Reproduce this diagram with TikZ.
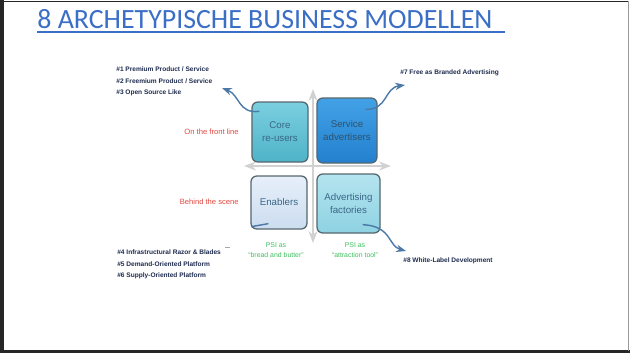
\documentclass[tikz,border=0pt]{standalone}
\usepackage{fontspec}
\setmainfont{Liberation Sans}
\newfontfamily\titlefont{Carlito}
\usepackage{xcolor}
\usetikzlibrary{arrows.meta,calc,positioning}

\definecolor{titleblue}{HTML}{3B6FC6}
\definecolor{listnavy}{HTML}{1E2B4F}
\definecolor{scenered}{HTML}{E2473F}
\definecolor{psigreen}{HTML}{3DBE5C}
\definecolor{flowblue}{HTML}{4C78A6}
\definecolor{boxtext}{HTML}{3A6687}
\definecolor{boxedge}{HTML}{56676E}
\definecolor{coretop}{HTML}{7ACFDF}
\definecolor{corebot}{HTML}{4FB3C8}
\definecolor{servtop}{HTML}{43A2E6}
\definecolor{servbot}{HTML}{2280CF}
\definecolor{enabtop}{HTML}{E6EFFA}
\definecolor{enabbot}{HTML}{CCDDF0}
\definecolor{advftop}{HTML}{B4E4EF}
\definecolor{advfbot}{HTML}{8ED2E2}

\begin{document}
\begin{tikzpicture}[x=0.03cm,y=-0.03cm,>=Stealth,semithick]
 \tikzstyle{quad}=[draw=boxedge, line width=1.1pt, rounded corners=5pt, align=center, text=boxtext, font=\fontsize{8.3}{11}\selectfont, inner sep=0pt]
 \tikzstyle{lst}=[anchor=west, inner sep=0pt, text=listnavy, font=\fontsize{5.6}{6.5}\selectfont\bfseries]
 \tikzstyle{side}=[anchor=east, inner sep=0pt, text=scenered, font=\fontsize{6.5}{8}\selectfont]
 \tikzstyle{psi}=[align=center, inner sep=0pt, text=psigreen, font=\fontsize{5.9}{8.5}\selectfont]
 \tikzstyle{flow}=[->, draw=flowblue, line width=1.2pt]
 \tikzstyle{axis}=[<->, draw=black!18, line width=1.6pt]

 \useasboundingbox (0,0) rectangle (630,353);
 % slide frame
 \fill[black!85] (0,0) rectangle (4,353);
 \fill[black!85] (0,350) rectangle (630,353);
 \draw[black!85, line width=0.8pt] (2,1) -- (629,1);
 \draw[black!40, line width=0.8pt] (628,1) -- (628,351);

 % title
 \node[anchor=base west, inner sep=0pt, text=titleblue, font=\titlefont\fontsize{23.8}{26}\selectfont] (title) at (37,28) {8 ARCHETYPISCHE BUSINESS MODELLEN};
 \draw[titleblue, line width=1pt] ([yshift=-3.4pt]title.base west) -- ++(468,0);

 % axes
 \coordinate (axN) at (313,89);
 \coordinate (axS) at (313,243);
 \coordinate (axW) at (244,166);
 \coordinate (axE) at (391,166);
 \draw[axis] (axS) -- (axN);
 \draw[axis] (axW) -- (axE);

 % quadrants
 \node[quad, top color=coretop, bottom color=corebot, minimum width=1.68cm, minimum height=1.8cm] (core) at (280,132) {Core\\re-users};
 \node[quad, top color=servtop, bottom color=servbot, minimum width=1.8cm, minimum height=1.95cm, text=boxtext!80!black] (serv) at (347,130.5) {Service\\advertisers};
 \node[quad, top color=enabtop, bottom color=enabbot, minimum width=1.68cm, minimum height=1.59cm] (enab) at (279,202.5) {Enablers};
 \node[quad, top color=advftop, bottom color=advfbot, minimum width=1.89cm, minimum height=1.77cm] (advf) at (348.5,203.5) {Advertising\\factories};

 % side labels
 \node[side] (front) at (239,132) {On the front line};
 \node[side] (behind) at (239,202) {Behind the scene};
 \node[psi] (psiA) at (276,250) {PSI as\\``bread and butter''};
 \node[psi] (psiB) at (355,250) {PSI as\\``attraction tool''};

 % model lists
 \node[lst] (p1) at (116,69) {\#1 Premium Product / Service};
 \node[lst] (p2) [below=0.36cm of p1.west, anchor=west] {\#2 Freemium Product / Service};
 \node[lst] (p3) [below=0.36cm of p2.west, anchor=west] {\#3 Open Source Like};
 \node[lst] (p7) at (400,73) {\#7 Free as Branded Advertising};
 \node[lst] (p4) at (117,252) {\#4 Infrastructural Razor \& Blades};
 \node[lst] (p5) [below=0.35cm of p4.west, anchor=west] {\#5 Demand-Oriented Platform};
 \node[lst] (p6) [below=0.35cm of p5.west, anchor=west] {\#6 Supply-Oriented Platform};
 \node[lst] (p8) at (403,261) {\#8 White-Label Development};

 % arrows out of the quadrants
 \coordinate (tipA) at (222,88);
 \coordinate (tipB) at (405,85);
 \coordinate (tipD) at (406,251);
 \draw[flow] ([shift={(8,10)}]core.north west) .. controls (238,114) and (240,95) .. (tipA);
 \draw[flow] ([shift={(-12,12)}]serv.north east) .. controls (388,110) and (384,88) .. (tipB);
 \draw[flow] ([shift={(-18,-9)}]advf.south east) .. controls (392,226) and (388,246) .. (tipD);
 \draw[flowblue, line width=1.2pt] ([shift={(1,-3)}]enab.south west) -- ([shift={(18,-6)}]enab.south west);
 \draw[black!35, line width=0.6pt] ([shift={(4,-5)}]p4.east) -- ++(5,0);
\end{tikzpicture}
\end{document}
